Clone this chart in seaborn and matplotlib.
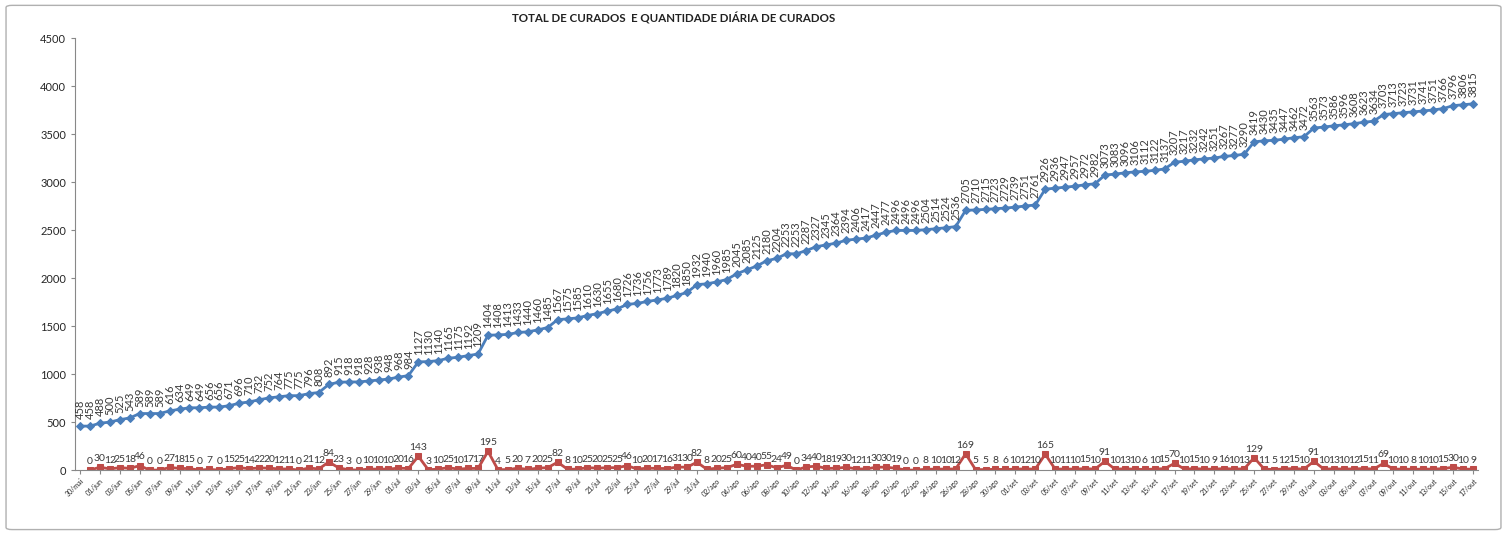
import numpy as np
import pandas as pd
import matplotlib.pyplot as plt
import seaborn as sns
from matplotlib.patches import FancyBboxPatch

# total de curados (acumulado)
total_curados = [458, 458, 488, 500, 525, 543, 589, 589, 589, 616,
                 634, 649, 649, 656, 656, 671, 696, 710, 732, 752,
                 764, 775, 775, 796, 808, 892, 915, 918, 918, 928,
                 938, 948, 968, 984, 1127, 1130, 1140, 1165, 1175, 1192,
                 1209, 1404, 1408, 1413, 1433, 1440, 1460, 1485, 1567, 1575,
                 1585, 1610, 1630, 1655, 1680, 1726, 1736, 1756, 1773, 1789,
                 1820, 1850, 1932, 1940, 1960, 1985, 2045, 2085, 2125, 2180,
                 2204, 2253, 2253, 2287, 2327, 2345, 2364, 2394, 2406, 2417,
                 2447, 2477, 2496, 2496, 2496, 2504, 2514, 2524, 2536, 2705,
                 2710, 2715, 2723, 2729, 2739, 2751, 2761, 2926, 2936, 2947,
                 2957, 2972, 2982, 3073, 3083, 3096, 3106, 3112, 3122, 3137,
                 3207, 3217, 3232, 3242, 3251, 3267, 3277, 3290, 3419, 3430,
                 3435, 3447, 3462, 3472, 3563, 3573, 3586, 3596, 3608, 3623,
                 3634, 3703, 3713, 3723, 3731, 3741, 3751, 3766, 3796, 3806,
                 3815]

# curados por dia (sem valor no primeiro dia)
diarios = [None, 0, 30, 12, 25, 18, 46, 0, 0, 27,
           18, 15, 0, 7, 0, 15, 25, 14, 22, 20,
           12, 11, 0, 21, 12, 84, 23, 3, 0, 10,
           10, 10, 20, 16, 143, 3, 10, 25, 10, 17,
           17, 195, 4, 5, 20, 7, 20, 25, 82, 8,
           10, 25, 20, 25, 25, 46, 10, 20, 17, 16,
           31, 30, 82, 8, 20, 25, 60, 40, 40, 55,
           24, 49, 0, 34, 40, 18, 19, 30, 12, 11,
           30, 30, 19, 0, 0, 8, 10, 10, 12, 169,
           5, 5, 8, 6, 10, 12, 10, 165, 10, 11,
           10, 15, 10, 91, 10, 13, 10, 6, 10, 15,
           70, 10, 15, 10, 9, 16, 10, 13, 129, 11,
           5, 12, 15, 10, 91, 10, 13, 10, 12, 15,
           11, 69, 10, 10, 8, 10, 10, 15, 30, 10,
           9]

meses = {5: 'mai', 6: 'jun', 7: 'jul', 8: 'ago', 9: 'set', 10: 'out'}
datas = pd.date_range('2020-05-30', '2020-10-17')
rotulos = [f"{d.day:02d}/{meses[d.month]}" for d in datas]

df = pd.DataFrame({'dia': np.arange(len(datas)),
                   'total': total_curados,
                   'diario': pd.array(diarios, dtype='Float64')})

sns.set_style('white')
plt.rcParams['font.family'] = ['Lato', 'DejaVu Sans']

azul = '#4a7ebb'
vermelho = '#be4b48'

fig = plt.figure(figsize=(15.07, 5.36), dpi=100)
ax = fig.add_axes([0.0498, 0.123, 0.931, 0.806])

sns.lineplot(data=df, x='dia', y='total', color=azul, marker='D', markersize=4.5,
             markeredgecolor=azul, linewidth=2, ax=ax)
sns.lineplot(data=df, x='dia', y='diario', color=vermelho, marker='s', markersize=5,
             markeredgecolor=vermelho, linewidth=2, ax=ax)

# rótulos de dados
for i, v in enumerate(total_curados):
    ax.annotate(str(v), (i, v), xytext=(0, 5), textcoords='offset points',
                rotation=90, ha='center', va='bottom', fontsize=8, color='#3a3a3a')
for i, v in enumerate(diarios):
    if v is None:
        continue
    ax.annotate(str(v), (i, v), xytext=(0, 3), textcoords='offset points',
                ha='center', va='bottom', fontsize=7.5, color='#3a3a3a')

ax.set_xlim(-0.5, len(datas) - 0.5)
ax.set_ylim(0, 4500)
ax.set_yticks(range(0, 4501, 500))
ax.set_xticks(range(0, len(datas), 2))
ax.set_xticklabels(rotulos[::2], rotation=45, ha='right', rotation_mode='anchor',
                   fontsize=5)
ax.tick_params(axis='y', labelsize=8, length=3, color='#888888', left=True)
ax.tick_params(axis='x', length=3, color='#888888', bottom=True, pad=2)
ax.set_xlabel('')
ax.set_ylabel('')
for lado in ['top', 'right']:
    ax.spines[lado].set_visible(False)
for lado in ['left', 'bottom']:
    ax.spines[lado].set_color('#888888')
    ax.spines[lado].set_linewidth(0.8)

fig.text(0.447, 0.966, 'TOTAL DE CURADOS  E QUANTIDADE DIÁRIA DE CURADOS',
         ha='center', va='center', fontsize=8.3, fontweight='bold', color='#222222')

borda = FancyBboxPatch((0.004, 0.012), 0.992, 0.978, boxstyle='round,pad=0,rounding_size=0.004',
                       transform=fig.transFigure, fill=False, edgecolor='#b0b0b0', linewidth=1)
fig.patches.append(borda)

fig.savefig('out.png', dpi=100)
